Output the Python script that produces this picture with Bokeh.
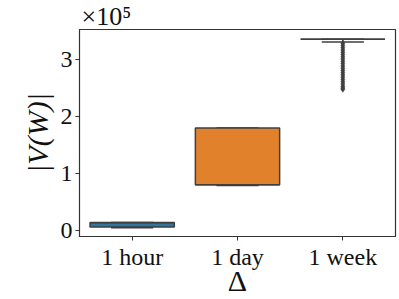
from bokeh.plotting import figure
from bokeh.models import Range1d, FixedTicker, CustomJSTickFormatter, Title, ColumnDataSource
from bokeh.embed import file_html
from bokeh.resources import INLINE

categories = ["1 hour", "1 day", "1 week"]
colors = ["#3274a1", "#e1812c", "#3a923a"]
q1 = [5900, 80000, 336000]
median = [13000, 80000, 336000]
q3 = [13400, 180000, 336000]
whisker_low = [4200, 78500, 331000]
whisker_high = [13400, 180000, 336000]
outlier_cat = [2] * 22
outlier_vals = [329000, 325000, 321000, 317000, 313000, 309000, 305000, 301000, 297000,
                293000, 289000, 285000, 281000, 277000, 273000, 269000, 265000, 261000,
                257000, 253000, 250000, 248000]

xs = list(range(len(categories)))
edge = "#3f3f3f"
serif = "Liberation Serif"

p = figure(width=399, height=299, output_backend="svg", toolbar_location=None,
           x_range=Range1d(-0.5, 2.5), y_range=Range1d(-11000, 353000),
           min_border_left=79, min_border_right=4, min_border_top=29, min_border_bottom=61)

src = ColumnDataSource(dict(x=xs, q1=q1, med=median, q3=q3, lo=whisker_low, hi=whisker_high,
                            color=colors,
                            cl=[x - 0.2 for x in xs], cr=[x + 0.2 for x in xs]))

# whiskers
p.segment(x0="x", y0="lo", x1="x", y1="q1", source=src, line_color=edge, line_width=1.5)
p.segment(x0="x", y0="q3", x1="x", y1="hi", source=src, line_color=edge, line_width=1.5)
p.segment(x0="cl", y0="lo", x1="cr", y1="lo", source=src, line_color=edge, line_width=1.5)
p.segment(x0="cl", y0="hi", x1="cr", y1="hi", source=src, line_color=edge, line_width=1.5)
# boxes
p.vbar(x="x", width=0.8, bottom="q1", top="q3", source=src, fill_color="color",
       line_color=edge, line_width=1.5)
p.segment(x0=[x - 0.4 for x in xs], y0=median, x1=[x + 0.4 for x in xs], y1=median,
          line_color=edge, line_width=1.5)
# outliers
p.scatter(outlier_cat, outlier_vals, marker="diamond", size=6, fill_color=edge,
          line_color=edge, line_width=0.5)

p.xgrid.visible = False
p.ygrid.visible = False
p.outline_line_color = "#333333"
p.outline_line_width = 1.2

p.xaxis.ticker = FixedTicker(ticks=xs)
p.xaxis.major_label_overrides = {i: c for i, c in enumerate(categories)}
p.yaxis.ticker = FixedTicker(ticks=[0, 100000, 200000, 300000])
p.yaxis.formatter = CustomJSTickFormatter(code="return (tick/1e5).toFixed(0)")
for ax in (p.xaxis, p.yaxis):
    ax.minor_tick_line_color = None
    ax.major_tick_in = 0
    ax.major_tick_out = 4
    ax.axis_line_color = "#333333"
    ax.major_tick_line_color = "#333333"
    ax.major_label_text_font = serif
    ax.major_label_text_font_size = "24px"
    ax.major_label_text_color = "#111111"
    ax.major_label_text_font_style = "normal"
p.xaxis.major_label_standoff = 3
p.yaxis.major_label_standoff = 3
p.yaxis.major_label_orientation = "horizontal"

p.yaxis.axis_label = "|V(W)|"
p.yaxis.axis_label_text_font = serif
p.yaxis.axis_label_text_font_style = "italic"
p.yaxis.axis_label_text_font_size = "30px"
p.yaxis.axis_label_text_color = "#111111"
p.yaxis.axis_label_standoff = 4

p.xaxis.axis_label = "Δ"
p.xaxis.axis_label_text_font = serif
p.xaxis.axis_label_text_font_style = "normal"
p.xaxis.axis_label_text_font_size = "30px"
p.xaxis.axis_label_text_color = "#111111"
p.xaxis.axis_label_standoff = -9

p.add_layout(Title(text="×10⁵", align="left", text_font=serif, text_font_size="26px",
                   text_font_style="normal", text_color="#111111", offset=2,
                   standoff=-2), "above")

open("out.html", "w").write(file_html(p, INLINE))
